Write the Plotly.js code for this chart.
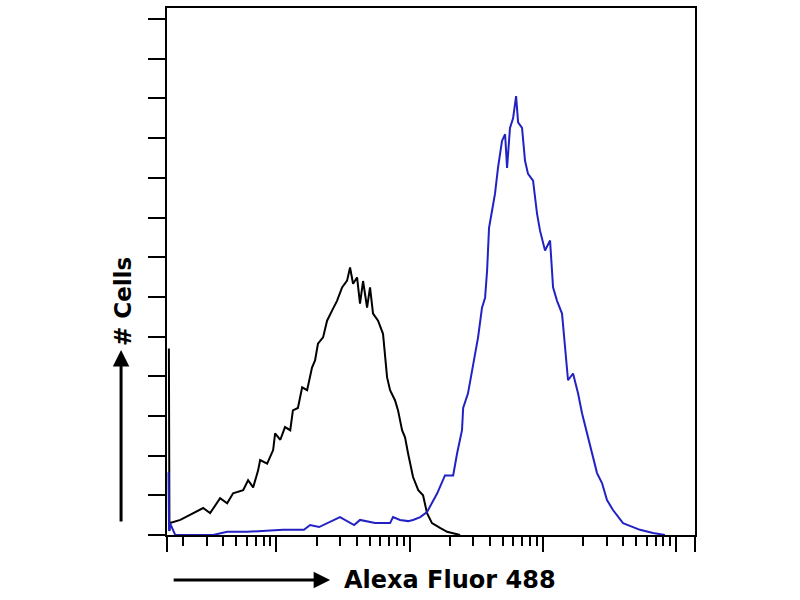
<!DOCTYPE html>
<html>
<head>
<meta charset="utf-8">
<script src="https://cdn.plot.ly/plotly-3.0.1.min.js"></script>
<style>
  html, body { margin: 0; padding: 0; background: #fff; }
  #chart { width: 800px; height: 600px; }
</style>
</head>
<body>
<div id="chart"></div>
<script>
// control (black) histogram: fluorescence intensity vs cell count
const ctrlX = [1.56, 1.575, 1.59, 1.90, 2.37, 2.82, 3.18, 3.78, 4.27, 4.73, 5.63, 6.13, 6.69, 7.29, 7.55,
  8.52, 9.45, 9.78, 10.7, 11.6, 12.7, 13.3, 14.5, 15.6, 17.0, 18.5, 19.5, 20.5, 22.4, 24.0, 26.2,
  28.5, 31.1, 33.9, 35.7, 37.6, 40.3, 42.4, 44.7, 47.9, 50.4, 53.1, 57.9, 63.1, 67.7, 71.3, 77.7,
  81.8, 87.7, 92.3, 97.2, 106, 116, 126, 135, 147, 169, 191, 239];
const ctrlY = [4.7, 0.1, 0.3, 0.38, 0.55, 0.68, 0.55, 0.93, 0.8, 1.05, 1.13, 1.38, 1.2, 1.63, 1.89,
  1.8, 2.14, 2.56, 2.4, 2.72, 2.64, 3.14, 3.2, 3.72, 3.65, 4.22, 4.4, 4.82, 4.98, 5.4, 5.66,
  5.9, 6.24, 6.41, 6.74, 6.33, 6.49, 5.83, 6.4, 5.73, 6.24, 5.58, 5.4, 5.07, 3.97, 3.65, 3.39,
  3.14, 2.64, 2.46, 2.06, 1.46, 1.13, 1.0, 0.55, 0.3, 0.18, 0.08, 0];

// stained (blue) histogram
const stainX = [1.55, 1.565, 1.59, 1.74, 3.35, 3.72, 4.27, 6.03, 11.2, 16.1, 17.9, 20.9, 30.0, 38.3,
  42.4, 55.0, 71.3, 75.0, 84.7, 97.2, 106, 120, 135, 161, 184, 212, 227, 247, 252, 274, 294, 310,
  326, 349, 368, 381, 394, 415, 437, 460, 493, 520, 538, 566, 597, 629, 651, 697, 734, 773, 843,
  903, 951, 1037, 1131, 1191, 1276, 1391, 1466, 1543, 1683, 1834, 1965, 2142, 2336, 2546, 2775,
  3025, 3356, 3990, 4745, 5350, 6695, 8240];
const stainY = [1.58, 0.1, 0.3, 0, 0, 0.03, 0.08, 0.08, 0.13, 0.13, 0.25, 0.2, 0.45, 0.25,
  0.38, 0.3, 0.3, 0.45, 0.38, 0.35, 0.38, 0.45, 0.58, 1.05, 1.5, 1.5, 2.06, 2.64, 3.2, 3.57, 4.15, 4.57,
  4.98, 5.73, 5.98, 6.66, 7.74, 8.17, 8.6, 9.25, 9.93, 10.1, 9.25, 10.26, 10.5, 11.06, 10.4, 10.26, 9.43, 9.1, 8.93,
  8.1, 7.67, 7.17, 7.42, 6.24, 5.9, 5.58, 4.73, 3.9, 4.07, 3.57, 3.07, 2.56, 2.06, 1.56, 1.31,
  0.88, 0.63, 0.3, 0.2, 0.13, 0.05, 0];

// axis ticks (no labels drawn)
const decades = [1, 10, 100, 1000, 10000];
const xMin = 1.51, xMax = 13840;
const yTicks = [0, 1, 2, 3, 4, 5, 6, 7, 8, 9, 10, 11, 12, 13];

const minorVals = [];
decades.forEach(d => {
  for (let k = 2; k <= 9; k++) {
    if (k * d > xMin && k * d < xMax) minorVals.push(k * d);
  }
});
const majorVals = [xMin].concat(decades.filter(d => d > xMin && d < xMax), [xMax]);

var trace1 = {
  x: ctrlX,
  y: ctrlY,
  mode: "lines",
  type: "scatter",
  line: { color: "#000000", width: 2 },
  hoverinfo: "skip",
};

var trace2 = {
  x: stainX,
  y: stainY,
  mode: "lines",
  type: "scatter",
  line: { color: "#2222c4", width: 2 },
  hoverinfo: "skip",
};

var labelFont = { family: "DejaVu Sans", color: "#000", weight: "bold" };

var layout = {
  width: 800,
  height: 600,
  showlegend: false,
  paper_bgcolor: "#ffffff",
  plot_bgcolor: "#ffffff",
  margin: { l: 167, r: 105, t: 8, b: 65 },
  xaxis: {
    type: "log",
    range: [Math.log10(xMin), Math.log10(xMax)],
    showgrid: false,
    zeroline: false,
    showline: true,
    mirror: true,
    linecolor: "#000",
    linewidth: 2,
    tickmode: "array",
    tickvals: majorVals,
    ticks: "outside",
    ticklen: 15,
    tickwidth: 2,
    tickcolor: "#000",
    showticklabels: false,
    minor: {
      tickmode: "array",
      tickvals: minorVals,
      ticks: "outside",
      ticklen: 9,
      tickwidth: 2,
      tickcolor: "#000",
      showgrid: false,
    },
  },
  yaxis: {
    range: [0, 13.28],
    showgrid: false,
    zeroline: false,
    showline: true,
    mirror: true,
    linecolor: "#000",
    linewidth: 2,
    tickmode: "array",
    tickvals: yTicks,
    ticks: "outside",
    ticklen: 17,
    tickwidth: 2,
    tickcolor: "#000",
    showticklabels: false,
  },
  annotations: [
    {
      // x axis arrow
      xref: "paper", yref: "paper",
      x: 0.309, y: -0.0854,
      ax: -158, ay: 0,
      text: "",
      showarrow: true,
      arrowhead: 2, arrowsize: 1.1, arrowwidth: 3, arrowcolor: "#000",
    },
    {
      xref: "paper", yref: "paper",
      x: 0.536, y: -0.0854,
      xanchor: "center", yanchor: "middle",
      text: "Alexa Fluor 488",
      showarrow: false,
      font: Object.assign({ size: 24 }, labelFont),
    },
    {
      // y axis arrow
      xref: "paper", yref: "paper",
      x: -0.087, y: 0.351,
      ax: 0, ay: 173,
      text: "",
      showarrow: true,
      arrowhead: 2, arrowsize: 1.1, arrowwidth: 3, arrowcolor: "#000",
    },
    {
      xref: "paper", yref: "paper",
      x: -0.0843, y: 0.443,
      xanchor: "center", yanchor: "middle",
      text: "# Cells",
      textangle: -90,
      showarrow: false,
      font: Object.assign({ size: 23 }, labelFont),
    },
  ],
};

Plotly.newPlot("chart", [trace1, trace2], layout, { staticPlot: true });
</script>
</body>
</html>
